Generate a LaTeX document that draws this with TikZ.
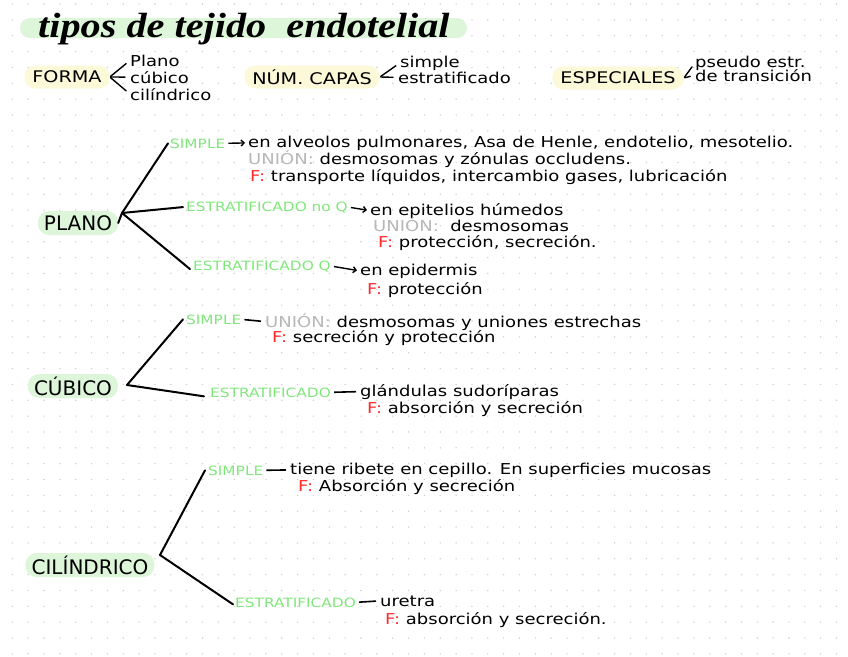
\documentclass[tikz,border=0pt]{standalone}
\usepackage{fontspec}
\setmainfont{DejaVu Sans}[FakeStretch=1.2]
\newfontfamily\capsfont{DejaVu Sans}
\newfontfamily\titlefont{Liberation Serif}[FakeStretch=1.15]
\usetikzlibrary{arrows.meta}
\definecolor{hlgreen}{HTML}{DDF6DA}
\definecolor{hlyellow}{HTML}{FBF9D8}
\definecolor{lgreen}{HTML}{80E87B}
\definecolor{ugray}{HTML}{B8B8B8}
\definecolor{fred}{HTML}{FF2B2B}
\definecolor{dotc}{HTML}{D0D0D0}
\newcommand{\un}{\textcolor{ugray}{UNIÓN:}}
\newcommand{\ff}{\textcolor{fred}{F:}}
\tikzset{
  txt/.style={anchor=base west, inner sep=0pt, font=\fontsize{15}{16}\selectfont},
  lbl/.style={anchor=base west, inner sep=0pt, text=lgreen, font=\fontsize{12.8}{14}\selectfont},
  bigbox/.style={fill=hlgreen, rounded corners=11pt, minimum height=24pt, inner xsep=6pt, inner ysep=0pt, font=\capsfont\fontsize{20}{21}\selectfont},
  catbox/.style={fill=hlyellow, rounded corners=11pt, minimum height=23pt, inner xsep=8pt, inner ysep=0pt, font=\fontsize{16}{18}\selectfont},
  branch/.style={line width=2pt, line cap=round},
  tick/.style={line width=1.4pt, line cap=round, shorten >=5pt, shorten <=1pt},
  arr/.style={line width=1.4pt, -{Straight Barb[length=3pt,width=6pt]}, shorten <=3pt, shorten >=3pt},
  dashline/.style={line width=1.6pt, shorten <=3pt, shorten >=4pt}
}
\begin{document}
\begin{tikzpicture}[x=1pt,y=-1pt]
\useasboundingbox (0,0) rectangle (848,656);
\fill[white] (0,0) rectangle (848,656);
\foreach \i in {0,...,52}{\foreach \j in {0,...,41}{\fill[dotc] ({12.3+15.85*\i},{4+15.85*\j}) circle (0.8);}}
% title
\node[fill=hlgreen, rounded corners=10pt, minimum width=447pt, minimum height=20pt, inner sep=0pt] (thl) at (243.5,28) {};
\node[anchor=base west, inner sep=0pt, font=\titlefont\bfseries\itshape\fontsize{35}{38}\selectfont] (title) at (38,37) {tipos de tejido\ \ endotelial};
% categories
\node[catbox] (forma) at (67,77) {FORMA};
\node[txt] (fp) at (130,66) {Plano};
\node[txt] (fc) at (130,83) {cúbico};
\node[txt] (fl) at (130,100) {cilíndrico};
\draw[tick] (forma.east) -- (fp.west);
\draw[tick] (forma.east) -- (fc.west);
\draw[tick] (forma.east) -- (fl.west);
\node[catbox] (capas) at (312,77) {NÚM. CAPAS};
\node[txt] (cs) at (400,67) {simple};
\node[txt] (ce) at (398,83) {estratificado};
\draw[tick] (capas.east) -- (cs.west);
\draw[tick] (capas.east) -- (ce.west);
\node[catbox] (espec) at (618,78) {ESPECIALES};
\node[txt] (ep) at (695,67) {pseudo estr.};
\node[txt] (et) at (695,81) {de transición};
\draw[tick] (espec.east) -- (ep.west);
\draw[tick] (espec.east) -- (et.west);
% PLANO
\node[bigbox] (plano) at (78,223) {PLANO};
\coordinate (jp) at (122,213);
\node[lbl] (s1) at (170,148) {SIMPLE};
\node[txt] (d1) at (248,147) {en alveolos pulmonares, Asa de Henle, endotelio, mesotelio.};
\node[txt] (u1) at (248,164) {\un\ desmosomas y zónulas occludens.};
\node[txt] (f1) at (250,181) {\ff\ transporte líquidos, intercambio gases, lubricación};
\node[lbl] (e1) at (186,211) {ESTRATIFICADO no Q};
\node[txt] (d2) at (370,215) {en epitelios húmedos};
\node[txt] (u2) at (373,231) {\un\ \ desmosomas};
\node[txt] (f2) at (378,247) {\ff\ protección, secreción.};
\node[lbl] (e2) at (193,270) {ESTRATIFICADO Q};
\node[txt] (d3) at (360,275) {en epidermis};
\node[txt] (f3) at (367,294) {\ff\ protección};
\draw[branch] (jp) -- ([xshift=-2pt]s1.west);
\draw[branch] (jp) -- ([xshift=-3pt]e1.west);
\draw[branch] (jp) -- ([xshift=-3pt,yshift=-3pt]e2.west);
\draw[branch] (plano.east) -- (jp);
\draw[arr] (s1.east) -- (d1.west);
\draw[arr] (e1.east) -- (d2.west);
\draw[arr] (e2.east) -- (d3.west);
% CUBICO
\node[bigbox] (cubico) at (73,386) {CÚBICO};
\coordinate (jc) at (127,385);
\node[lbl] (s2) at (186,324) {SIMPLE};
\node[txt] (d4) at (265,327) {\un\ desmosomas y uniones estrechas};
\node[txt] (f4) at (272,342) {\ff\ secreción y protección};
\node[lbl] (e3) at (210,397) {ESTRATIFICADO};
\node[txt] (d5) at (360,396) {glándulas sudoríparas};
\node[txt] (f5) at (367,413) {\ff\ absorción y secreción};
\draw[branch] (jc) -- ([xshift=-3pt]s2.west);
\draw[branch] (jc) -- ([xshift=-6pt,yshift=-4pt]e3.west);
\draw[dashline] (s2.east) -- (d4.west);
\draw[dashline] (e3.east) -- (d5.west);
% CILINDRICO
\node[bigbox] (cilin) at (90,565) {CILÍNDRICO};
\coordinate (jl) at (160,555);
\node[lbl] (s3) at (208,475) {SIMPLE};
\node[txt] (d6) at (290,474) {tiene ribete en cepillo. En superficies mucosas};
\node[txt] (f6) at (298,491) {\ff\ Absorción y secreción};
\node[lbl] (e4) at (235,607) {ESTRATIFICADO};
\node[txt] (d7) at (380,606) {uretra};
\node[txt] (f7) at (385,624) {\ff\ absorción y secreción.};
\draw[branch] (jl) -- ([xshift=-3pt]s3.west);
\draw[branch] (jl) -- ([xshift=-2pt,yshift=-2pt]e4.west);
\draw[dashline] (s3.east) -- (d6.west);
\draw[dashline] (e4.east) -- (d7.west);
\end{tikzpicture}
\end{document}
